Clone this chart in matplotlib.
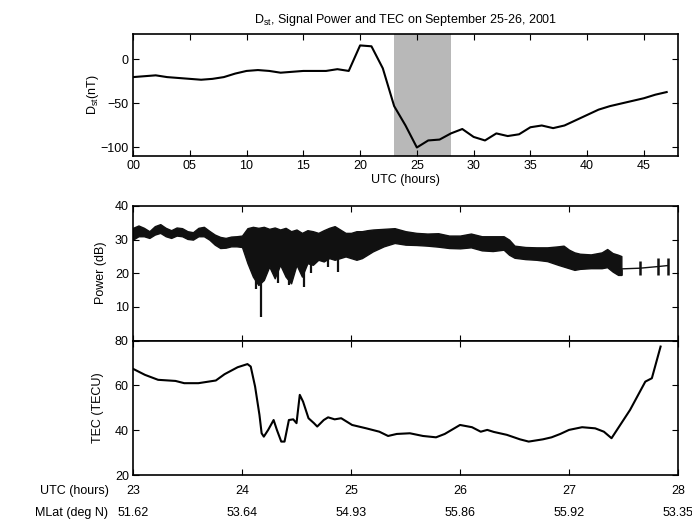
import matplotlib
matplotlib.use("Agg")
import matplotlib.pyplot as plt
import matplotlib.transforms as mtransforms
import numpy as np

plt.rcParams['font.family'] = ['Liberation Sans', 'DejaVu Sans']
plt.rcParams['mathtext.default'] = 'regular'
plt.rcParams['font.size'] = 9
plt.rcParams['xtick.direction'] = 'in'
plt.rcParams['ytick.direction'] = 'in'

# Dst index, hourly from 00 UTC Sep 25
dst_hours = np.arange(0, 48)
dst_values = [-20, -19, -18, -20, -21, -22, -23, -22, -20, -16,
              -13, -12, -13, -15, -14, -13, -13, -13, -11, -13,
              16, 15, -10, -53, -75, -100, -92, -91, -84, -79,
              -88, -92, -84, -87, -85, -77, -75, -78, -75, -69,
              -63, -57, -53, -50, -47, -44, -40, -37]
shade_span = (23, 28)

# signal power envelope (upper / lower edge of the noisy band)
pow_t = [23.00, 23.05, 23.10, 23.15, 23.20, 23.25, 23.30, 23.35, 23.40, 23.45,
         23.50, 23.55, 23.60, 23.65, 23.70, 23.75, 23.80, 23.85, 23.90, 23.95,
         24.00, 24.05, 24.10, 24.15, 24.20, 24.25, 24.30, 24.35, 24.40, 24.45,
         24.50, 24.55, 24.60, 24.65, 24.70, 24.75, 24.80, 24.85, 24.90, 24.95,
         25.00, 25.05, 25.10, 25.15, 25.20, 25.30, 25.40, 25.50, 25.60, 25.70,
         25.80, 25.90, 26.00, 26.10, 26.20, 26.30, 26.40, 26.45, 26.50, 26.60,
         26.70, 26.80, 26.90, 26.95, 27.00, 27.05, 27.10, 27.20, 27.30, 27.35,
         27.40, 27.45, 27.48]
pow_hi = [33.5, 34.2, 33.5, 32.5, 34.0, 34.6, 33.5, 32.8, 33.6, 33.4,
          32.5, 32.2, 33.5, 33.8, 32.6, 31.5, 30.8, 30.5, 30.9, 31.0,
          31.2, 33.4, 33.8, 33.5, 33.8, 33.2, 33.6, 33.0, 33.5, 32.5,
          33.0, 32.0, 32.8, 32.5, 32.0, 32.8, 33.5, 34.0, 33.0, 32.0,
          32.0, 32.5, 32.5, 32.8, 33.0, 33.2, 33.4, 32.5, 32.0, 31.8,
          31.9, 31.2, 31.2, 31.8, 31.0, 31.0, 31.0, 30.0, 28.2, 27.8,
          27.7, 27.7, 28.0, 28.2, 27.0, 26.2, 25.8, 25.6, 26.2, 27.2,
          26.0, 25.5, 25.1]
pow_lo = [30.0, 31.0, 31.0, 30.5, 31.5, 32.0, 31.0, 30.5, 31.2, 31.0,
          30.2, 30.0, 31.0, 31.0, 30.0, 28.5, 27.5, 27.6, 28.0, 28.0,
          27.8, 23.0, 19.0, 16.5, 18.0, 22.0, 18.5, 22.5, 19.0, 17.0,
          22.5, 19.0, 23.0, 22.5, 24.0, 23.5, 24.5, 24.0, 24.5, 25.0,
          24.5, 24.0, 24.5, 25.5, 26.5, 28.0, 29.0, 28.5, 28.4, 28.2,
          27.9, 27.5, 27.4, 27.7, 26.8, 26.6, 27.0, 25.5, 24.6, 24.2,
          24.0, 23.6, 22.5, 22.0, 21.5, 21.0, 21.3, 21.5, 21.5, 21.8,
          20.5, 19.5, 19.5]
# deep fades below the band
fade_t = [24.13, 24.17, 24.33, 24.43, 24.57, 24.63, 24.79, 24.88]
fade_min = [15.4, 7.0, 17.0, 16.5, 15.9, 20.0, 22.0, 20.5]
fade_top = [30.0, 30.0, 30.0, 30.0, 30.0, 30.0, 30.0, 30.0]
# sparse samples at the end of the pass
tail_t = [27.48, 27.65, 27.82, 27.91]
tail_v = [21.3, 21.5, 22.0, 22.3]
tail_lo = [19.5, 19.5, 19.5, 19.5]
tail_hi = [21.3, 23.5, 24.5, 24.5]

# TEC
tec_t = [23.00, 23.11, 23.23, 23.39, 23.47, 23.60, 23.76, 23.84, 23.96, 24.05,
         24.08, 24.12, 24.16, 24.18, 24.20, 24.24, 24.29, 24.32, 24.36, 24.39,
         24.43, 24.47, 24.50, 24.53, 24.56, 24.61, 24.66, 24.69, 24.75, 24.79,
         24.85, 24.91, 25.01, 25.14, 25.26, 25.34, 25.42, 25.54, 25.66, 25.78,
         25.86, 26.00, 26.11, 26.19, 26.25, 26.31, 26.43, 26.55, 26.63, 26.76,
         26.84, 26.92, 27.00, 27.12, 27.24, 27.32, 27.39, 27.56, 27.70, 27.76,
         27.84]
tec_v = [67.4, 64.7, 62.5, 62.0, 61.0, 61.0, 62.2, 65.0, 68.1, 69.5,
         68.4, 59.5, 46.9, 38.7, 37.2, 40.2, 44.6, 40.2, 35.0, 35.0,
         44.6, 44.9, 43.2, 55.8, 52.8, 45.4, 43.2, 41.7, 44.6, 45.8,
         44.9, 45.4, 42.4, 40.9, 39.4, 37.5, 38.4, 38.7, 37.5, 36.9,
         38.4, 42.4, 41.4, 39.4, 40.2, 39.3, 38.0, 36.0, 35.0, 36.0,
         36.9, 38.4, 40.2, 41.4, 40.9, 39.4, 36.5, 49.1, 61.7, 63.2,
         77.3]

utc_ticks = [23, 24, 25, 26, 27, 28]
mlat_labels = ['51.62', '53.64', '54.93', '55.86', '55.92', '53.35']

fig = plt.figure(figsize=(6.92, 5.22), dpi=100)

# --- Dst panel
ax1 = fig.add_axes([0.1922, 0.7006, 0.7876, 0.2343])
ax1.axvspan(shade_span[0], shade_span[1], color='#b8b8b8', lw=0)
ax1.plot(dst_hours, dst_values, color='black', lw=1.5)
ax1.set_xlim(0, 48)
ax1.set_ylim(-110, 29)
ax1.set_xticks(range(0, 50, 5))
ax1.set_xticklabels(['%02d' % h for h in range(0, 50, 5)])
ax1.set_yticks([-100, -50, 0])
ax1.set_xlabel('UTC (hours)', labelpad=1)
ax1.set_ylabel('D$_{st}$(nT)', labelpad=0)
ax1.set_title('D$_{st}$, Signal Power and TEC on September 25-26, 2001',
              fontsize=9, pad=8)

# --- Power panel
ax2 = fig.add_axes([0.1922, 0.3477, 0.7876, 0.2577])
ax2.fill_between(pow_t, pow_lo, pow_hi, color='#111111', lw=1.0,
                 edgecolor='#111111')
ax2.vlines(fade_t, fade_min, fade_top, color='#111111', lw=1.6)
ax2.plot(tail_t, tail_v, color='#111111', lw=1.0)
ax2.vlines(tail_t, tail_lo, tail_hi, color='#111111', lw=1.8)
ax2.set_xlim(23, 28)
ax2.set_ylim(0, 40)
ax2.set_xticks(utc_ticks)
ax2.set_xticklabels([])
ax2.set_yticks([10, 20, 30, 40])
ax2.set_ylabel('Power (dB)', labelpad=6)

# --- TEC panel
ax3 = fig.add_axes([0.1922, 0.0895, 0.7876, 0.2582])
ax3.plot(tec_t, tec_v, color='black', lw=1.5)
ax3.set_xlim(23, 28)
ax3.set_ylim(20, 80)
ax3.set_yticks([20, 40, 60, 80])
ax3.set_xticks(utc_ticks)
ax3.set_xticklabels([str(u) for u in utc_ticks])
ax3.set_ylabel('TEC (TECU)', labelpad=8)

trans = mtransforms.blended_transform_factory(ax3.transData, ax3.transAxes)
for u, m in zip(utc_ticks, mlat_labels):
    ax3.text(u, -0.232, m, transform=trans, ha='center', va='top', fontsize=9)
ax3.text(-0.045, -0.07, 'UTC (hours)', transform=ax3.transAxes,
         ha='right', va='top', fontsize=9)
ax3.text(-0.045, -0.232, 'MLat (deg N)', transform=ax3.transAxes,
         ha='right', va='top', fontsize=9)

for ax in (ax1, ax2, ax3):
    ax.tick_params(top=True, right=True, length=4, width=0.8, pad=3)
    for s in ax.spines.values():
        s.set_linewidth(1.2)
ax3.tick_params(axis='x', pad=7)

fig.savefig('out.png', dpi=100)
